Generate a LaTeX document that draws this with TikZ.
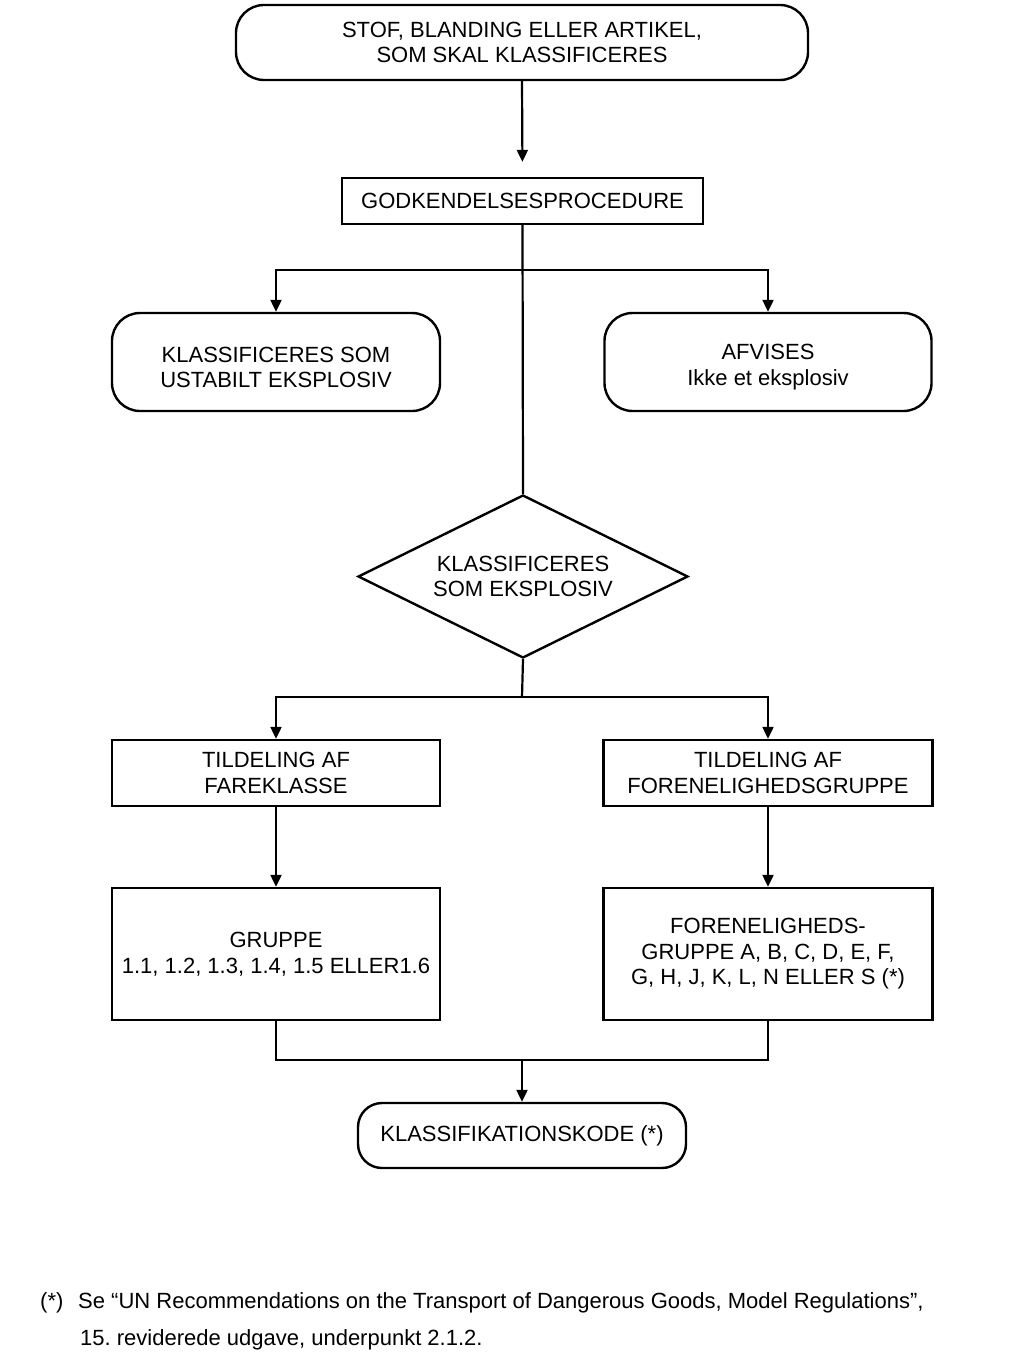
\documentclass[tikz,border=0pt]{standalone}
\usepackage{fontspec}
\setmainfont{Liberation Sans}
\usetikzlibrary{arrows.meta,shapes.geometric}
\frenchspacing
\begin{document}
\begin{tikzpicture}[x=1pt,y=-1pt,
  base/.style={draw=black,line width=2.4pt,align=center,inner sep=0pt,
    font=\fontsize{22}{25.5}\selectfont},
  term/.style={base,rounded corners=28pt},
  box/.style={base},
  dia/.style={base,diamond,aspect=2.02},
  conn/.style={line width=2.2pt},
  arr/.style={conn,-{Triangle[width=11pt,length=12pt]}},
  foot/.style={anchor=west,inner sep=0pt,font=\fontsize{22}{25}\selectfont}]
\useasboundingbox (0,0) rectangle (1023,1364);
\node[term,minimum width=572pt,minimum height=75pt] (start) at (522,42.5)
  {STOF, BLANDING ELLER ARTIKEL,\\SOM SKAL KLASSIFICERES};
\node[box,minimum width=361pt,minimum height=46pt] (god) at (522.5,201)
  {GODKENDELSESPROCEDURE};
\node[term,minimum width=328pt,minimum height=98pt] (ustab) at (276,362)
  {\rule{0pt}{26pt}KLASSIFICERES SOM\\USTABILT EKSPLOSIV};
\node[term,minimum width=327pt,minimum height=98pt] (afv) at (768,362)
  {\rule{0pt}{26pt}AFVISES\\Ikke et eksplosiv};
\node[dia,minimum width=330pt,minimum height=163pt] (eks) at (523,576.5)
  {KLASSIFICERES\\SOM EKSPLOSIV};
\node[box,minimum width=328pt,minimum height=66pt] (fare) at (276,773)
  {TILDELING AF\\FAREKLASSE};
\node[box,minimum width=329pt,minimum height=66pt] (fgrp) at (768,773)
  {TILDELING AF\\FORENELIGHEDSGRUPPE};
\node[box,minimum width=328pt,minimum height=132pt] (grp) at (276,954)
  {GRUPPE\\1.1, 1.2, 1.3, 1.4, 1.5 ELLER1.6};
\node[box,minimum width=329pt,minimum height=132pt] (fgrpl) at (768,954)
  {FORENELIGHEDS-\\GRUPPE A, B, C, D, E, F,\\G, H, J, K, L, N ELLER S (*)};
\node[term,minimum width=328pt,minimum height=65pt,rounded corners=24pt] (kode) at (522,1135.5)
  {KLASSIFIKATIONSKODE (*)};
% connectors
\coordinate (b1) at (522,270);
\coordinate (b2) at (522,697);
\coordinate (b3) at (522,1060);
\draw[arr,shorten >=15pt] (start.south) -- (god.north);
\draw[conn] (god.south) -- (eks.north);
\draw[arr] (b1) -| (ustab.north);
\draw[arr] (b1) -| (afv.north);
\draw[conn] (eks.south) -- (b2);
\draw[arr] (b2) -| (fare.north);
\draw[arr] (b2) -| (fgrp.north);
\draw[arr] (fare.south) -- (grp.north);
\draw[arr] (fgrp.south) -- (fgrpl.north);
\draw[conn] (grp.south) |- (b3);
\draw[conn] (fgrpl.south) |- (b3);
\draw[arr] (b3) -- (kode.north);
% footnote
\node[foot] (fstar) at (40,1303) {(*)};
\node[foot] (f1) at (78,1303) {Se “UN Recommendations on the Transport of Dangerous Goods, Model Regulations”,};
\node[foot] (f2) at (80,1340) {15. reviderede udgave, underpunkt 2.1.2.};
\end{tikzpicture}
\end{document}
